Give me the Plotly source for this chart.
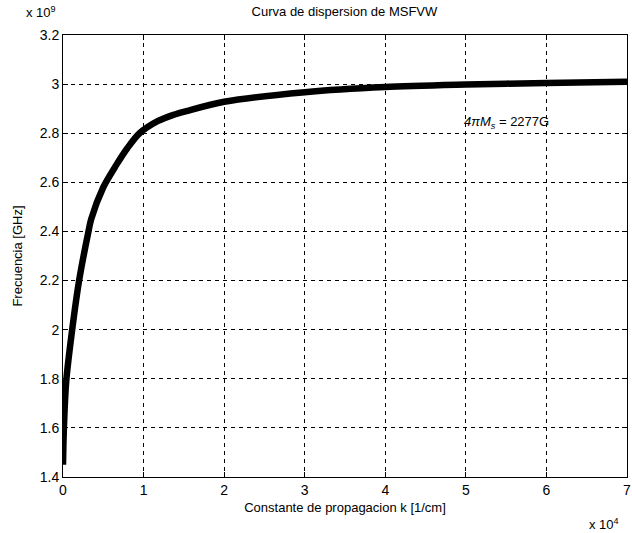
import plotly.graph_objects as go

# Data (k in 1/cm, frequency in Hz)
k_vals = [0, 100, 400, 1100, 2000, 3100, 3500, 5000, 6600, 8000, 9500,
          11800, 13700, 15300, 20000, 30000, 40000, 50000, 60000, 70000]
f_vals = [1.45e9, 1.59e9, 1.79e9, 1.99e9, 2.20e9, 2.39e9, 2.45e9, 2.58e9, 2.67e9, 2.74e9, 2.80e9,
          2.85e9, 2.875e9, 2.89e9, 2.928e9, 2.967e9, 2.988e9, 2.998e9, 3.005e9, 3.01e9]

x_ticks = [0, 10000, 20000, 30000, 40000, 50000, 60000, 70000]
x_tick_labels = ["0", "1", "2", "3", "4", "5", "6", "7"]
y_ticks = [1.4e9, 1.6e9, 1.8e9, 2.0e9, 2.2e9, 2.4e9, 2.6e9, 2.8e9, 3.0e9, 3.2e9]
y_tick_labels = ["1.4", "1.6", "1.8", "2", "2.2", "2.4", "2.6", "2.8", "3", "3.2"]

FONT = "Liberation Sans, Arial, sans-serif"

fig = go.Figure()
fig.add_trace(go.Scatter(x=k_vals, y=f_vals, mode="lines",
                         line=dict(color="black", width=6.5, shape="spline", smoothing=0.8),
                         showlegend=False, hoverinfo="skip"))

axis_common = dict(showline=True, linecolor="black", linewidth=1, mirror="ticks",
                   ticks="inside", ticklen=5, tickcolor="black", automargin=False,
                   showgrid=True, gridcolor="black", gridwidth=1, griddash="4px,4px",
                   zeroline=False, tickfont=dict(family=FONT, size=14, color="black"))

fig.update_xaxes(range=[0, 70000], tickvals=x_ticks, ticktext=x_tick_labels,
                 title=dict(text="Constante de propagacion k [1/cm]",
                            font=dict(family=FONT, size=13, color="black"), standoff=6),
                 **axis_common)
fig.update_yaxes(range=[1.4e9, 3.2e9], tickvals=y_ticks, ticktext=y_tick_labels,
                 title=dict(text="Frecuencia [GHz]",
                            font=dict(family=FONT, size=13, color="black"), standoff=14),
                 **axis_common)

fig.add_annotation(text="x 10<sup>9</sup>", xref="paper", yref="paper", x=0.0, y=1.0,
                   xanchor="right", yanchor="bottom", showarrow=False, xshift=-5, yshift=13,
                   font=dict(family=FONT, size=13, color="black"))
fig.add_annotation(text="x 10<sup>4</sup>", xref="paper", yref="paper", x=1.0, y=0.0,
                   xanchor="right", yanchor="top", showarrow=False, xshift=-6, yshift=-37,
                   font=dict(family=FONT, size=13, color="black"))
fig.add_annotation(text="<i>4πM<sub>s</sub></i> = 2277G", x=49500, y=2.845e9,
                   xanchor="left", yanchor="middle", showarrow=False,
                   font=dict(family=FONT, size=13, color="black"))

fig.update_layout(
    width=632, height=533,
    margin=dict(l=63, r=5, t=35, b=56),
    paper_bgcolor="white", plot_bgcolor="white",
    title=dict(text="Curva de dispersion de MSFVW", x=0.545, xanchor="center",
               yref="container", y=0.978, yanchor="middle",
               font=dict(family=FONT, size=13, color="black")),
)

# Remove the default 8px body margin so the 632x533 figure fills the window exactly
fig.write_html("out.html", config={"displayModeBar": False},
               post_script="document.body.style.margin='0';document.body.style.overflow='hidden';")
